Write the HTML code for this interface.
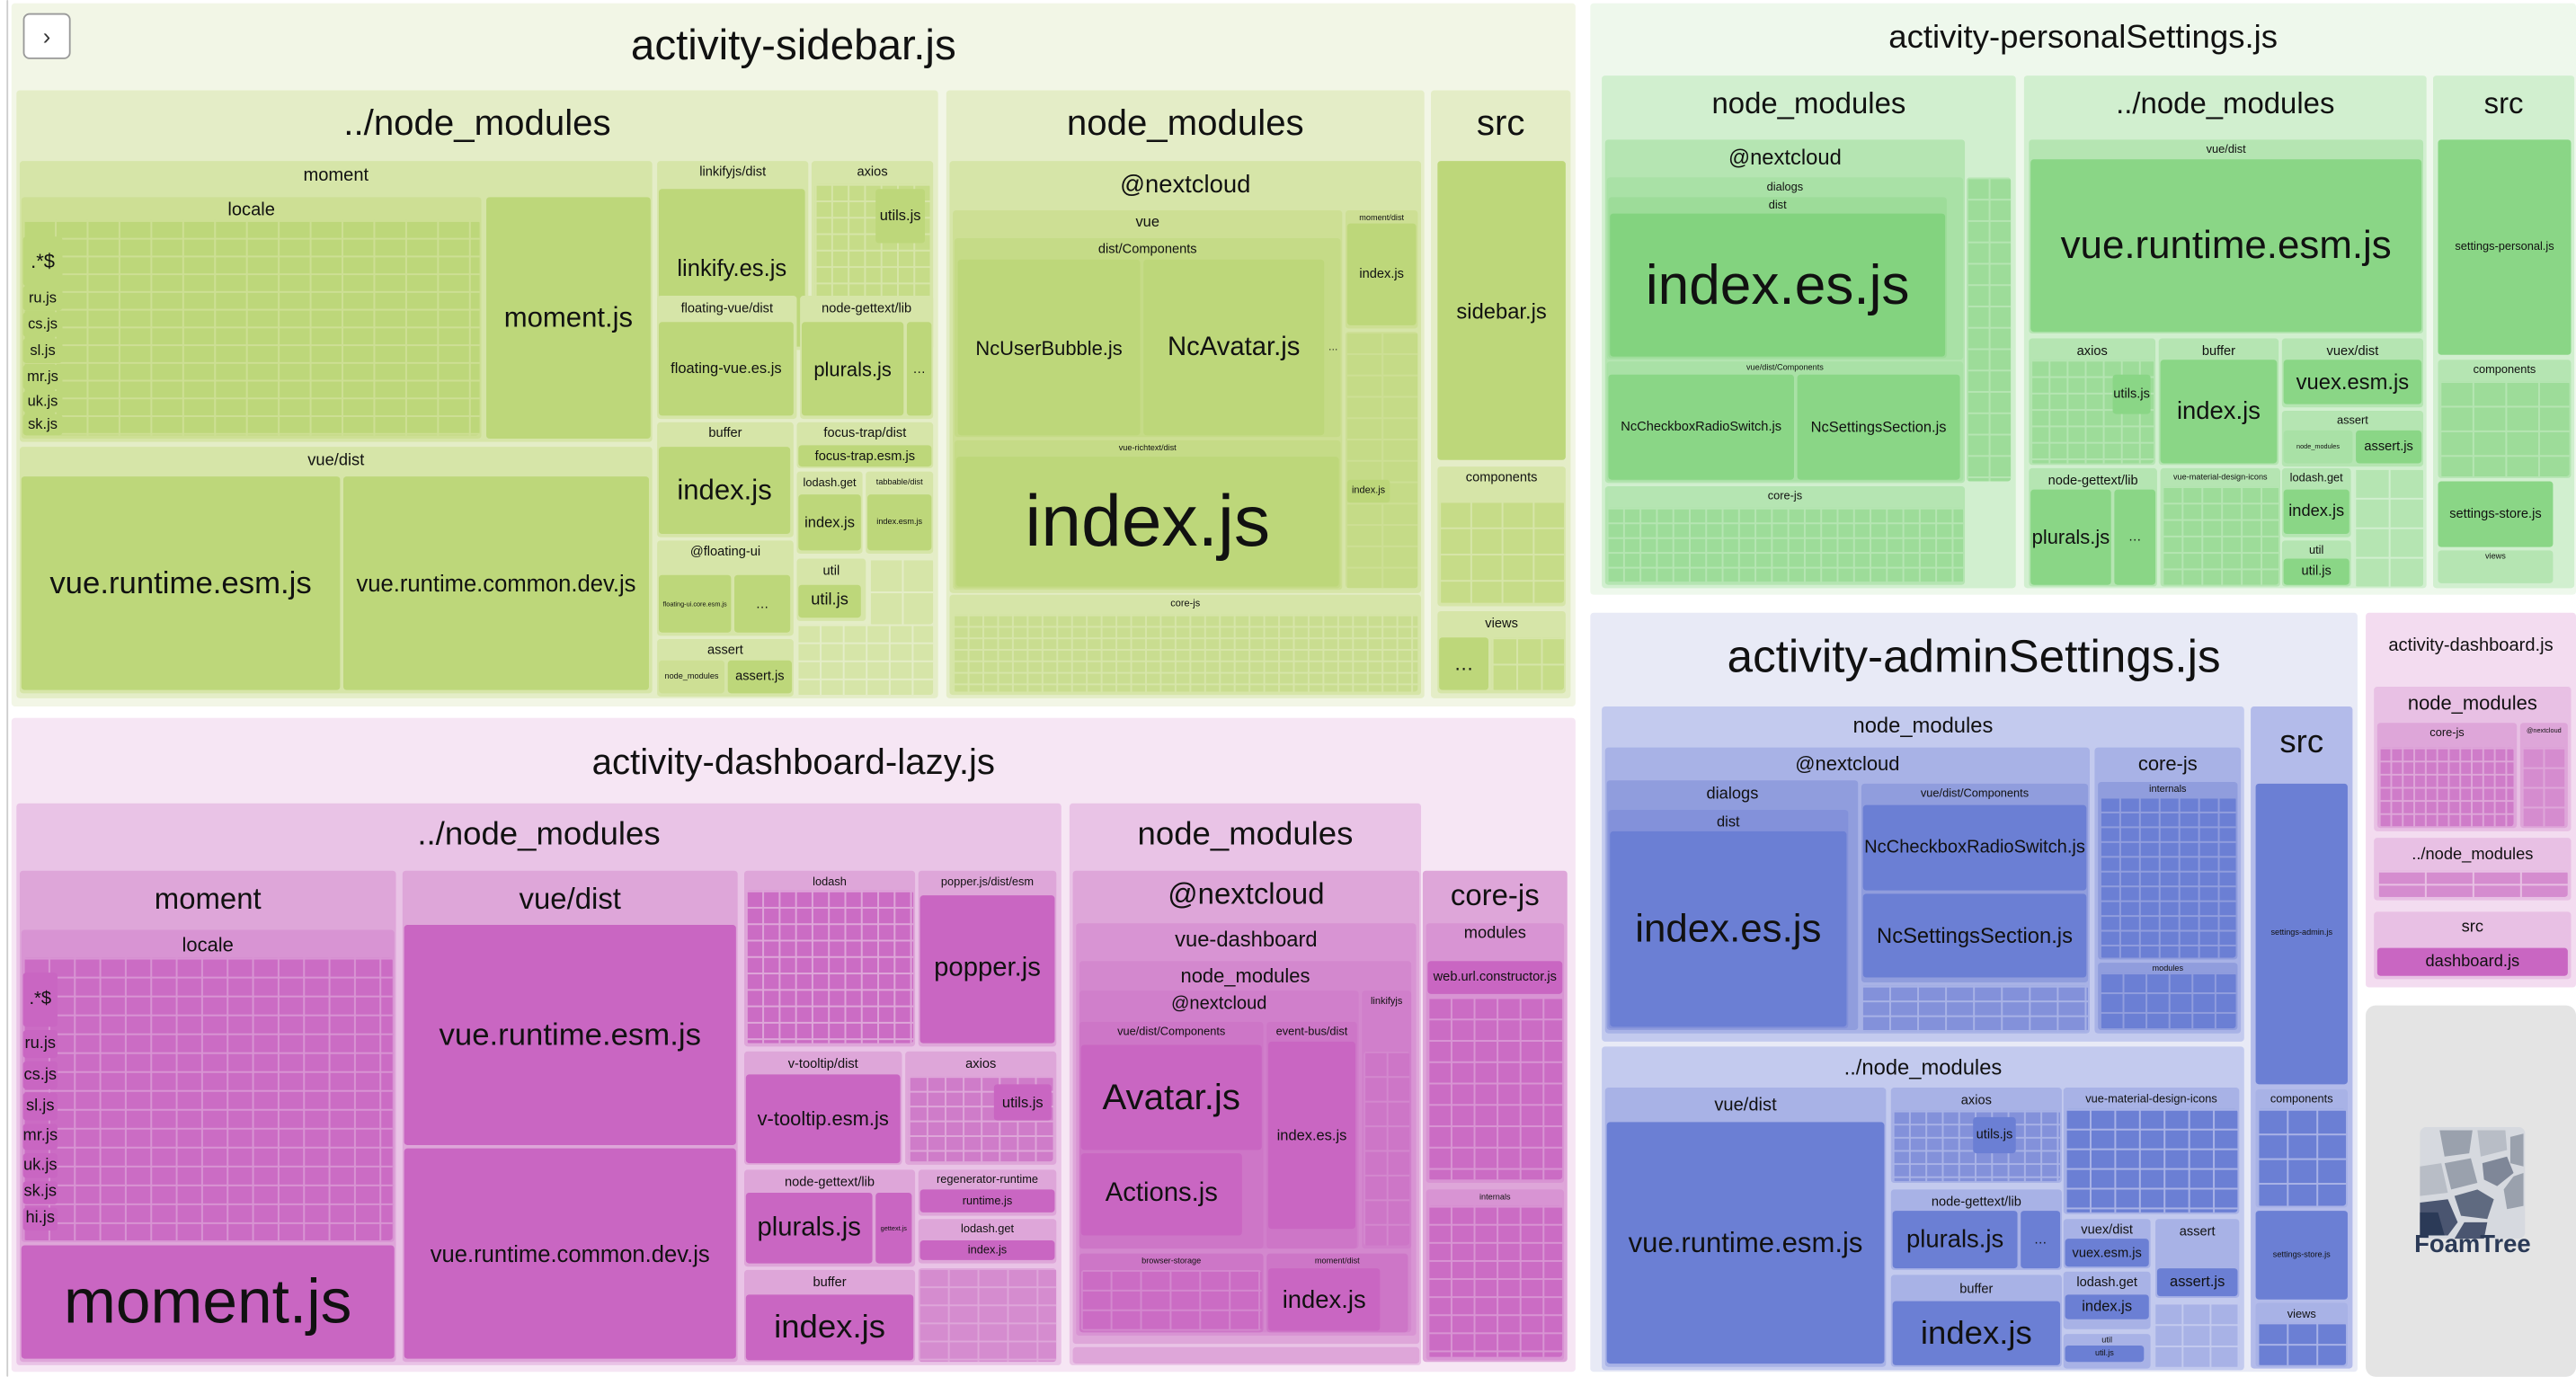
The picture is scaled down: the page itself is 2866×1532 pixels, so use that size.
<!DOCTYPE html>
<html><head><meta charset="utf-8"><style>
html,body{margin:0;padding:0;background:#fff;width:2866px;height:1532px;overflow:hidden}
#c{position:absolute;left:0;top:0;width:1568px;height:838px;transform:scale(1.82781);transform-origin:0 0;font-family:"Liberation Sans",sans-serif;color:#111}
.b{position:absolute;box-sizing:border-box;border-radius:2px;display:flex;align-items:center;justify-content:center;text-align:center;overflow:hidden;white-space:nowrap;line-height:1}
.g{align-items:flex-start}
.gs{background-image:linear-gradient(90deg,var(--l) 1px,transparent 1px),linear-gradient(var(--l) 1px,transparent 1px)}
</style></head><body><div id="c">
<div class="b" style="left:4px;top:0;width:1px;height:838px;background:#ccc"></div>

<!-- ============ SIDEBAR (green) ============ -->
<div class="b g" style="left:7px;top:2px;width:952px;height:428px;background:#f2f6e6;font-size:26px;padding-top:12px">activity-sidebar.js</div>
<div class="b" style="left:14px;top:8px;width:29px;height:28px;background:#fff;border:1px solid #999;border-radius:4px;font-size:14px;color:#333">&#x203A;</div>
<!-- ../node_modules -->
<div class="b g" style="left:10px;top:55px;width:561px;height:370px;background:#e4edc7;font-size:22px;padding-top:9px">../node_modules</div>
<div class="b g" style="left:12px;top:98px;width:385px;height:171px;background:#d6e5a8;font-size:11px;padding-top:4px">moment</div>
<div class="b g" style="left:13px;top:120px;width:280px;height:147px;background:#cddf94;font-size:11px;padding-top:3px">locale</div>
<div class="b gs" style="--l:#cddf94;left:14px;top:134px;width:278px;height:131px;background-color:#bdd77a;background-size:19.4px 10.8px"></div>
<div class="b" style="left:14px;top:144px;width:24px;height:30px;background:#bdd77a;font-size:12px">.*$</div>
<div class="b" style="left:14px;top:174px;width:24px;height:15px;background:#bdd77a;font-size:9px">ru.js</div>
<div class="b" style="left:14px;top:190px;width:24px;height:15px;background:#bdd77a;font-size:9px">cs.js</div>
<div class="b" style="left:14px;top:206px;width:24px;height:15px;background:#bdd77a;font-size:9px">sl.js</div>
<div class="b" style="left:14px;top:222px;width:24px;height:15px;background:#bdd77a;font-size:9px">mr.js</div>
<div class="b" style="left:14px;top:238px;width:24px;height:13px;background:#bdd77a;font-size:9px">uk.js</div>
<div class="b" style="left:14px;top:252px;width:24px;height:13px;background:#bdd77a;font-size:9px">sk.js</div>
<div class="b" style="left:296px;top:120px;width:100px;height:147px;background:#bdd77a;font-size:17px">moment.js</div>
<div class="b g" style="left:12px;top:272px;width:385px;height:150px;background:#d6e5a8;font-size:10px;padding-top:4px">vue/dist</div>
<div class="b" style="left:13px;top:290px;width:194px;height:130px;background:#bdd77a;font-size:19px">vue.runtime.esm.js</div>
<div class="b" style="left:209px;top:290px;width:186px;height:130px;background:#bdd77a;font-size:14px">vue.runtime.common.dev.js</div>
<div class="b g" style="left:400px;top:98px;width:92px;height:115px;background:#d6e5a8;font-size:8px;padding-top:3px">linkifyjs/dist</div>
<div class="b" style="left:401px;top:115px;width:89px;height:96px;background:#bdd77a;font-size:14px">linkify.es.js</div>
<div class="b g" style="left:494px;top:98px;width:74px;height:115px;background:#d6e5a8;font-size:8px;padding-top:3px">axios</div>
<div class="b gs" style="--l:#d6e5a8;left:496px;top:112px;width:70px;height:99px;background-color:#c6dc88;background-size:10px 10px"></div>
<div class="b" style="left:533px;top:115px;width:30px;height:33px;background:#bdd77a;font-size:9px">utils.js</div>
<div class="b g" style="left:400px;top:180px;width:85px;height:75px;background:#d6e5a8;font-size:8px;padding-top:4px">floating-vue/dist</div>
<div class="b" style="left:401px;top:196px;width:82px;height:57px;background:#bdd77a;font-size:9px">floating-vue.es.js</div>
<div class="b g" style="left:487px;top:180px;width:81px;height:75px;background:#d6e5a8;font-size:8px;padding-top:4px">node-gettext/lib</div>
<div class="b" style="left:488px;top:196px;width:62px;height:57px;background:#bdd77a;font-size:12px">plurals.js</div>
<div class="b" style="left:552px;top:196px;width:15px;height:57px;background:#bdd77a;font-size:8px">…</div>
<div class="b g" style="left:400px;top:257px;width:83px;height:70px;background:#d6e5a8;font-size:8px;padding-top:3px">buffer</div>
<div class="b" style="left:401px;top:272px;width:80px;height:53px;background:#bdd77a;font-size:17px">index.js</div>
<div class="b g" style="left:485px;top:257px;width:83px;height:28px;background:#d6e5a8;font-size:8px;padding-top:3px">focus-trap/dist</div>
<div class="b" style="left:486px;top:271px;width:81px;height:13px;background:#bdd77a;font-size:8px">focus-trap.esm.js</div>
<div class="b g" style="left:485px;top:287px;width:40px;height:50px;background:#d6e5a8;font-size:7px;padding-top:4px">lodash.get</div>
<div class="b" style="left:486px;top:301px;width:38px;height:34px;background:#bdd77a;font-size:9px">index.js</div>
<div class="b g" style="left:527px;top:287px;width:41px;height:50px;background:#d6e5a8;font-size:5px;padding-top:5px">tabbable/dist</div>
<div class="b" style="left:528px;top:301px;width:39px;height:34px;background:#bdd77a;font-size:5px">index.esm.js</div>
<div class="b g" style="left:400px;top:329px;width:83px;height:58px;background:#d6e5a8;font-size:8px;padding-top:3px">@floating-ui</div>
<div class="b" style="left:401px;top:350px;width:44px;height:35px;background:#bdd77a;font-size:4px">floating-ui.core.esm.js</div>
<div class="b" style="left:447px;top:350px;width:34px;height:35px;background:#bdd77a;font-size:8px">…</div>
<div class="b g" style="left:400px;top:389px;width:83px;height:35px;background:#d6e5a8;font-size:8px;padding-top:3px">assert</div>
<div class="b" style="left:443px;top:402px;width:39px;height:20px;background:#bdd77a;font-size:8px">assert.js</div>
<div class="b" style="left:401px;top:402px;width:40px;height:20px;background:#cddf94;font-size:5px">node_modules</div>
<div class="b g" style="left:485px;top:340px;width:42px;height:38px;background:#d6e5a8;font-size:8px;padding-top:4px">util</div>
<div class="b" style="left:486px;top:356px;width:38px;height:20px;background:#bdd77a;font-size:10px">util.js</div>
<div class="b gs" style="--l:#e4edc7;left:485px;top:380px;width:83px;height:43px;background-color:#d6e5a8;background-size:14px 11px"></div>
<div class="b gs" style="--l:#e4edc7;left:529px;top:340px;width:39px;height:40px;background-color:#d6e5a8;background-size:20px 20px"></div>
<!-- node_modules -->
<div class="b g" style="left:576px;top:55px;width:291px;height:370px;background:#e4edc7;font-size:22px;padding-top:9px">node_modules</div>
<div class="b g" style="left:578px;top:98px;width:287px;height:263px;background:#d6e5a8;font-size:15px;padding-top:7px">@nextcloud</div>
<div class="b g" style="left:580px;top:128px;width:237px;height:231px;background:#cddf94;font-size:9px;padding-top:3px">vue</div>
<div class="b g" style="left:581px;top:145px;width:235px;height:121px;background:#c5db87;font-size:8px;padding-top:3px">dist/Components</div>
<div class="b" style="left:583px;top:158px;width:111px;height:107px;background:#bdd77a;font-size:12px">NcUserBubble.js</div>
<div class="b" style="left:696px;top:158px;width:110px;height:107px;background:#bdd77a;font-size:16px">NcAvatar.js</div>
<div class="b" style="left:808px;top:158px;width:7px;height:107px;background:#c5db87;font-size:6px">…</div>
<div class="b g" style="left:581px;top:268px;width:235px;height:90px;background:#c5db87;font-size:5px;padding-top:3px">vue-richtext/dist</div>
<div class="b" style="left:582px;top:278px;width:233px;height:79px;background:#bdd77a;font-size:44px">index.js</div>
<div class="b g" style="left:819px;top:128px;width:44px;height:72px;background:#cddf94;font-size:5px;padding-top:3px">moment/dist</div>
<div class="b" style="left:820px;top:136px;width:42px;height:62px;background:#bdd77a;font-size:8px">index.js</div>
<div class="b gs" style="--l:#cddf94;left:819px;top:202px;width:44px;height:156px;background-color:#c5db87;background-size:22px 13px"></div>
<div class="b" style="left:820px;top:292px;width:26px;height:14px;background:#bdd77a;font-size:6px">index.js</div>
<div class="b g" style="left:578px;top:362px;width:287px;height:61px;background:#d6e5a8;font-size:6px;padding-top:3px">core-js</div>
<div class="b gs" style="--l:#d6e5a8;left:580px;top:374px;width:283px;height:47px;background-color:#c9dd90;background-size:9px 7px"></div>
<!-- src -->
<div class="b g" style="left:871px;top:55px;width:85px;height:370px;background:#e4edc7;font-size:22px;padding-top:9px">src</div>
<div class="b" style="left:875px;top:98px;width:78px;height:182px;background:#bdd77a;font-size:13px">sidebar.js</div>
<div class="b g" style="left:875px;top:284px;width:78px;height:85px;background:#d6e5a8;font-size:8px;padding-top:3px">components</div>
<div class="b gs" style="--l:#d6e5a8;left:876px;top:305px;width:76px;height:62px;background-color:#c6dc88;background-size:19px 16px"></div>
<div class="b g" style="left:875px;top:372px;width:78px;height:50px;background:#d6e5a8;font-size:8px;padding-top:4px">views</div>
<div class="b" style="left:876px;top:388px;width:30px;height:32px;background:#bdd77a;font-size:12px">…</div>
<div class="b gs" style="--l:#d6e5a8;left:908px;top:388px;width:44px;height:32px;background-color:#c6dc88;background-size:15px 16px"></div>

<!-- ============ DASHBOARD-LAZY (pink) ============ -->
<div class="b g" style="left:7px;top:437px;width:952px;height:398px;background:#f6e6f4;font-size:22px;padding-top:16px">activity-dashboard-lazy.js</div>
<div class="b g" style="left:10px;top:489px;width:636px;height:342px;background:#e9c3e6;font-size:20px;padding-top:9px">../node_modules</div>
<div class="b g" style="left:12px;top:530px;width:229px;height:299px;background:#dea6d9;font-size:18px;padding-top:8px">moment</div>
<div class="b g" style="left:13px;top:566px;width:227px;height:190px;background:#d894d3;font-size:12px;padding-top:3px">locale</div>
<div class="b gs" style="--l:#d894d3;left:14px;top:583px;width:225px;height:172px;background-color:#cb6cc4;background-size:15.5px 11.5px"></div>
<div class="b" style="left:14px;top:592px;width:21px;height:33px;background:#c966c2;font-size:11px">.*$</div>
<div class="b" style="left:14px;top:627px;width:21px;height:17px;background:#c966c2;font-size:10px">ru.js</div>
<div class="b" style="left:14px;top:646px;width:21px;height:17px;background:#c966c2;font-size:10px">cs.js</div>
<div class="b" style="left:14px;top:665px;width:21px;height:17px;background:#c966c2;font-size:10px">sl.js</div>
<div class="b" style="left:14px;top:684px;width:21px;height:16px;background:#c966c2;font-size:10px">mr.js</div>
<div class="b" style="left:14px;top:702px;width:21px;height:15px;background:#c966c2;font-size:10px">uk.js</div>
<div class="b" style="left:14px;top:719px;width:21px;height:14px;background:#c966c2;font-size:10px">sk.js</div>
<div class="b" style="left:14px;top:735px;width:21px;height:14px;background:#c966c2;font-size:10px">hi.js</div>
<div class="b" style="left:13px;top:758px;width:227px;height:69px;background:#c966c2;font-size:38px">moment.js</div>
<div class="b g" style="left:245px;top:530px;width:204px;height:299px;background:#dea6d9;font-size:18px;padding-top:8px">vue/dist</div>
<div class="b" style="left:246px;top:563px;width:202px;height:134px;background:#c966c2;font-size:19px">vue.runtime.esm.js</div>
<div class="b" style="left:246px;top:699px;width:202px;height:128px;background:#c966c2;font-size:14px">vue.runtime.common.dev.js</div>
<div class="b g" style="left:453px;top:530px;width:104px;height:107px;background:#dea6d9;font-size:7px;padding-top:4px">lodash</div>
<div class="b gs" style="--l:#dea6d9;left:454px;top:542px;width:102px;height:93px;background-color:#cb6cc4;background-size:10px 10px"></div>
<div class="b g" style="left:559px;top:530px;width:84px;height:107px;background:#dea6d9;font-size:7px;padding-top:4px">popper.js/dist/esm</div>
<div class="b" style="left:560px;top:545px;width:82px;height:90px;background:#c966c2;font-size:16px">popper.js</div>
<div class="b g" style="left:453px;top:640px;width:96px;height:69px;background:#dea6d9;font-size:8px;padding-top:4px">v-tooltip/dist</div>
<div class="b" style="left:454px;top:654px;width:94px;height:54px;background:#c966c2;font-size:12px">v-tooltip.esm.js</div>
<div class="b g" style="left:551px;top:640px;width:92px;height:69px;background:#dea6d9;font-size:8px;padding-top:4px">axios</div>
<div class="b gs" style="--l:#dea6d9;left:553px;top:655px;width:88px;height:52px;background-color:#cf7cc9;background-size:11px 9px"></div>
<div class="b" style="left:605px;top:660px;width:35px;height:22px;background:#c966c2;font-size:9px">utils.js</div>
<div class="b g" style="left:453px;top:712px;width:104px;height:59px;background:#dea6d9;font-size:8px;padding-top:4px">node-gettext/lib</div>
<div class="b" style="left:454px;top:726px;width:77px;height:43px;background:#c966c2;font-size:16px">plurals.js</div>
<div class="b" style="left:533px;top:726px;width:22px;height:43px;background:#c966c2;font-size:4px">gettext.js</div>
<div class="b g" style="left:559px;top:712px;width:84px;height:28px;background:#dea6d9;font-size:7px;padding-top:3px">regenerator-runtime</div>
<div class="b" style="left:560px;top:724px;width:82px;height:14px;background:#c966c2;font-size:7px">runtime.js</div>
<div class="b g" style="left:559px;top:742px;width:84px;height:27px;background:#dea6d9;font-size:7px;padding-top:3px">lodash.get</div>
<div class="b" style="left:560px;top:755px;width:82px;height:12px;background:#c966c2;font-size:7px">index.js</div>
<div class="b g" style="left:453px;top:773px;width:104px;height:56px;background:#dea6d9;font-size:8px;padding-top:4px">buffer</div>
<div class="b" style="left:454px;top:788px;width:102px;height:40px;background:#c966c2;font-size:20px">index.js</div>
<div class="b gs" style="--l:#dea6d9;left:559px;top:772px;width:84px;height:57px;background-color:#d58ccf;background-size:18px 11px"></div>
<!-- node_modules -->
<div class="b g" style="left:651px;top:489px;width:214px;height:342px;background:#e9c3e6;font-size:20px;padding-top:9px">node_modules</div>
<div class="b g" style="left:653px;top:530px;width:211px;height:288px;background:#dea6d9;font-size:18px;padding-top:5px">@nextcloud</div>
<div class="b g" style="left:655px;top:562px;width:207px;height:251px;background:#d894d3;font-size:13px;padding-top:3px">vue-dashboard</div>
<div class="b g" style="left:657px;top:585px;width:202px;height:226px;background:#d388ce;font-size:12px;padding-top:3px">node_modules</div>
<div class="b g" style="left:657px;top:603px;width:170px;height:157px;background:#d07fcb;font-size:11px;padding-top:3px">@nextcloud</div>
<div class="b g" style="left:657px;top:622px;width:112px;height:138px;background:#cd76c7;font-size:7px;padding-top:3px">vue/dist/Components</div>
<div class="b" style="left:658px;top:636px;width:110px;height:64px;background:#c966c2;font-size:22px">Avatar.js</div>
<div class="b" style="left:658px;top:702px;width:98px;height:50px;background:#c966c2;font-size:16px">Actions.js</div>
<div class="b g" style="left:771px;top:622px;width:55px;height:138px;background:#cd76c7;font-size:7px;padding-top:3px">event-bus/dist</div>
<div class="b" style="left:772px;top:634px;width:53px;height:114px;background:#c966c2;font-size:9px">index.es.js</div>
<div class="b g" style="left:829px;top:603px;width:30px;height:157px;background:#d07fcb;font-size:6px;padding-top:4px">linkifyjs</div>
<div class="b gs" style="--l:#d388ce;left:830px;top:640px;width:28px;height:118px;background-color:#cd76c7;background-size:14px 15px"></div>
<div class="b g" style="left:657px;top:763px;width:112px;height:48px;background:#cd76c7;font-size:5px;padding-top:3px">browser-storage</div>
<div class="b gs" style="--l:#d388ce;left:658px;top:773px;width:110px;height:37px;background-color:#cb6cc4;background-size:18px 12px"></div>
<div class="b g" style="left:771px;top:763px;width:86px;height:48px;background:#cd76c7;font-size:5px;padding-top:3px">moment/dist</div>
<div class="b" style="left:772px;top:772px;width:68px;height:38px;background:#c966c2;font-size:15px">index.js</div>
<div class="b" style="left:653px;top:820px;width:211px;height:10px;background:#dea6d9"></div>
<div class="b g" style="left:866px;top:530px;width:88px;height:299px;background:#dea6d9;font-size:18px;padding-top:6px">core-js</div>
<div class="b g" style="left:868px;top:562px;width:84px;height:158px;background:#d894d3;font-size:10px;padding-top:2px">modules</div>
<div class="b" style="left:869px;top:585px;width:82px;height:20px;background:#c966c2;font-size:8px">web.url.constructor.js</div>
<div class="b gs" style="--l:#d894d3;left:869px;top:607px;width:82px;height:111px;background-color:#cb6cc4;background-size:14px 13px"></div>
<div class="b g" style="left:868px;top:724px;width:84px;height:104px;background:#d894d3;font-size:5px;padding-top:3px">internals</div>
<div class="b gs" style="--l:#d894d3;left:869px;top:734px;width:82px;height:92px;background-color:#cb6cc4;background-size:14px 11px"></div>

<!-- ============ PERSONAL SETTINGS (light green) ============ -->
<div class="b g" style="left:968px;top:2px;width:600px;height:360px;background:#eef8ec;font-size:20px;padding-top:11px">activity-personalSettings.js</div>
<div class="b g" style="left:975px;top:46px;width:252px;height:312px;background:#d1efcf;font-size:18px;padding-top:8px">node_modules</div>
<div class="b g" style="left:977px;top:85px;width:219px;height:209px;background:#b5e5b2;font-size:13px;padding-top:4px">@nextcloud</div>
<div class="b g" style="left:978px;top:108px;width:217px;height:111px;background:#a9e1a6;font-size:7px;padding-top:3px">dialogs</div>
<div class="b g" style="left:979px;top:120px;width:206px;height:98px;background:#9ddc99;font-size:7px;padding-top:2px">dist</div>
<div class="b" style="left:980px;top:130px;width:204px;height:87px;background:#83d37f;font-size:34px">index.es.js</div>
<div class="b g" style="left:978px;top:220px;width:217px;height:73px;background:#a9e1a6;font-size:5px;padding-top:2px">vue/dist/Components</div>
<div class="b" style="left:979px;top:228px;width:113px;height:64px;background:#8ad686;font-size:8px">NcCheckboxRadioSwitch.js</div>
<div class="b" style="left:1094px;top:228px;width:99px;height:64px;background:#8ad686;font-size:9px">NcSettingsSection.js</div>
<div class="b gs" style="--l:#b5e5b2;left:1197px;top:108px;width:27px;height:185px;background-color:#9ddc99;background-size:13.5px 13px"></div>
<div class="b g" style="left:977px;top:296px;width:219px;height:60px;background:#b5e5b2;font-size:7px;padding-top:3px">core-js</div>
<div class="b gs" style="--l:#b5e5b2;left:978px;top:309px;width:217px;height:46px;background-color:#9ddc99;background-size:10px 9px"></div>
<div class="b g" style="left:1232px;top:46px;width:245px;height:312px;background:#d1efcf;font-size:18px;padding-top:8px">../node_modules</div>
<div class="b g" style="left:1235px;top:85px;width:240px;height:118px;background:#b5e5b2;font-size:7px;padding-top:3px">vue/dist</div>
<div class="b" style="left:1236px;top:97px;width:238px;height:105px;background:#8ad686;font-size:24px">vue.runtime.esm.js</div>
<div class="b g" style="left:1235px;top:206px;width:77px;height:77px;background:#b5e5b2;font-size:8px;padding-top:4px">axios</div>
<div class="b gs" style="--l:#b5e5b2;left:1236px;top:219px;width:75px;height:63px;background-color:#9ddc99;background-size:11px 10px"></div>
<div class="b" style="left:1286px;top:228px;width:23px;height:24px;background:#8ad686;font-size:8px">utils.js</div>
<div class="b g" style="left:1314px;top:206px;width:73px;height:77px;background:#b5e5b2;font-size:8px;padding-top:4px">buffer</div>
<div class="b" style="left:1315px;top:219px;width:71px;height:63px;background:#8ad686;font-size:15px">index.js</div>
<div class="b g" style="left:1389px;top:206px;width:86px;height:42px;background:#b5e5b2;font-size:8px;padding-top:4px">vuex/dist</div>
<div class="b" style="left:1390px;top:219px;width:84px;height:27px;background:#8ad686;font-size:13px">vuex.esm.js</div>
<div class="b g" style="left:1389px;top:250px;width:86px;height:34px;background:#b5e5b2;font-size:7px;padding-top:3px">assert</div>
<div class="b" style="left:1434px;top:262px;width:40px;height:20px;background:#8ad686;font-size:8px">assert.js</div>
<div class="b" style="left:1390px;top:262px;width:42px;height:20px;background:#a9e1a6;font-size:4px">node_modules</div>
<div class="b g" style="left:1235px;top:285px;width:78px;height:72px;background:#b5e5b2;font-size:8px;padding-top:4px">node-gettext/lib</div>
<div class="b" style="left:1236px;top:298px;width:49px;height:58px;background:#8ad686;font-size:12px">plurals.js</div>
<div class="b" style="left:1287px;top:298px;width:25px;height:58px;background:#8ad686;font-size:8px">…</div>
<div class="b g" style="left:1315px;top:285px;width:73px;height:72px;background:#b5e5b2;font-size:5px;padding-top:4px">vue-material-design-icons</div>
<div class="b gs" style="--l:#b5e5b2;left:1316px;top:296px;width:71px;height:60px;background-color:#9ddc99;background-size:12px 10px"></div>
<div class="b g" style="left:1389px;top:285px;width:42px;height:42px;background:#b5e5b2;font-size:7px;padding-top:3px">lodash.get</div>
<div class="b" style="left:1390px;top:298px;width:40px;height:27px;background:#8ad686;font-size:10px">index.js</div>
<div class="b g" style="left:1389px;top:329px;width:42px;height:28px;background:#b5e5b2;font-size:7px;padding-top:3px">util</div>
<div class="b" style="left:1390px;top:340px;width:40px;height:16px;background:#8ad686;font-size:8px">util.js</div>
<div class="b gs" style="--l:#d1efcf;left:1433px;top:285px;width:42px;height:72px;background-color:#b5e5b2;background-size:21px 18px"></div>
<div class="b g" style="left:1481px;top:46px;width:86px;height:312px;background:#d1efcf;font-size:18px;padding-top:8px">src</div>
<div class="b" style="left:1484px;top:85px;width:81px;height:131px;background:#8ad686;font-size:7px">settings-personal.js</div>
<div class="b g" style="left:1484px;top:219px;width:81px;height:72px;background:#b5e5b2;font-size:7px;padding-top:3px">components</div>
<div class="b gs" style="--l:#b5e5b2;left:1485px;top:232px;width:79px;height:58px;background-color:#9ddc99;background-size:20px 15px"></div>
<div class="b" style="left:1484px;top:293px;width:70px;height:40px;background:#8ad686;font-size:8px">settings-store.js</div>
<div class="b g" style="left:1484px;top:335px;width:70px;height:20px;background:#b5e5b2;font-size:5px;padding-top:2px">views</div>

<!-- ============ ADMIN SETTINGS (blue) ============ -->
<div class="b g" style="left:968px;top:373px;width:467px;height:462px;background:#e8eaf6;font-size:28px;padding-top:13px">activity-adminSettings.js</div>
<div class="b g" style="left:975px;top:430px;width:391px;height:204px;background:#c3caee;font-size:13px;padding-top:5px">node_modules</div>
<div class="b g" style="left:977px;top:455px;width:295px;height:174px;background:#a8b2e6;font-size:12px;padding-top:4px">@nextcloud</div>
<div class="b g" style="left:978px;top:475px;width:153px;height:152px;background:#909ddd;font-size:10px;padding-top:4px">dialogs</div>
<div class="b g" style="left:979px;top:493px;width:146px;height:133px;background:#8391da;font-size:9px;padding-top:3px">dist</div>
<div class="b" style="left:980px;top:506px;width:144px;height:119px;background:#6b7fd4;font-size:24px">index.es.js</div>
<div class="b g" style="left:1133px;top:477px;width:138px;height:121px;background:#909ddd;font-size:7px;padding-top:3px">vue/dist/Components</div>
<div class="b" style="left:1134px;top:490px;width:136px;height:52px;background:#6b7fd4;font-size:11px">NcCheckboxRadioSwitch.js</div>
<div class="b" style="left:1134px;top:544px;width:136px;height:51px;background:#6b7fd4;font-size:13px">NcSettingsSection.js</div>
<div class="b gs" style="--l:#a8b2e6;left:1133px;top:600px;width:138px;height:28px;background-color:#8391da;background-size:17px 9px"></div>
<div class="b g" style="left:1275px;top:455px;width:89px;height:174px;background:#a8b2e6;font-size:12px;padding-top:4px">core-js</div>
<div class="b g" style="left:1277px;top:476px;width:85px;height:108px;background:#909ddd;font-size:6px;padding-top:2px">internals</div>
<div class="b gs" style="--l:#909ddd;left:1278px;top:485px;width:83px;height:98px;background-color:#6b7fd4;background-size:12px 9px"></div>
<div class="b g" style="left:1277px;top:586px;width:85px;height:41px;background:#909ddd;font-size:5px;padding-top:2px">modules</div>
<div class="b gs" style="--l:#909ddd;left:1278px;top:592px;width:83px;height:34px;background-color:#6b7fd4;background-size:14px 12px"></div>
<div class="b g" style="left:975px;top:637px;width:391px;height:197px;background:#c3caee;font-size:13px;padding-top:6px">../node_modules</div>
<div class="b g" style="left:977px;top:662px;width:171px;height:170px;background:#a8b2e6;font-size:11px;padding-top:6px">vue/dist</div>
<div class="b" style="left:978px;top:683px;width:169px;height:147px;background:#6b7fd4;font-size:17px">vue.runtime.esm.js</div>
<div class="b g" style="left:1151px;top:662px;width:104px;height:58px;background:#a8b2e6;font-size:8px;padding-top:4px">axios</div>
<div class="b gs" style="--l:#a8b2e6;left:1152px;top:676px;width:102px;height:43px;background-color:#8391da;background-size:10px 8px"></div>
<div class="b" style="left:1201px;top:680px;width:26px;height:22px;background:#6b7fd4;font-size:8px">utils.js</div>
<div class="b g" style="left:1256px;top:662px;width:107px;height:77px;background:#a8b2e6;font-size:7px;padding-top:4px">vue-material-design-icons</div>
<div class="b gs" style="--l:#a8b2e6;left:1257px;top:675px;width:105px;height:63px;background-color:#6b7fd4;background-size:15px 12px"></div>
<div class="b g" style="left:1151px;top:724px;width:104px;height:49px;background:#a8b2e6;font-size:8px;padding-top:4px">node-gettext/lib</div>
<div class="b" style="left:1152px;top:737px;width:76px;height:35px;background:#6b7fd4;font-size:15px">plurals.js</div>
<div class="b" style="left:1230px;top:737px;width:24px;height:35px;background:#6b7fd4;font-size:8px">…</div>
<div class="b g" style="left:1151px;top:776px;width:104px;height:56px;background:#a8b2e6;font-size:8px;padding-top:5px">buffer</div>
<div class="b" style="left:1152px;top:792px;width:102px;height:39px;background:#6b7fd4;font-size:20px">index.js</div>
<div class="b g" style="left:1256px;top:742px;width:53px;height:30px;background:#a8b2e6;font-size:8px;padding-top:3px">vuex/dist</div>
<div class="b" style="left:1257px;top:754px;width:51px;height:17px;background:#6b7fd4;font-size:8px">vuex.esm.js</div>
<div class="b g" style="left:1312px;top:742px;width:51px;height:48px;background:#a8b2e6;font-size:8px;padding-top:4px">assert</div>
<div class="b" style="left:1313px;top:772px;width:49px;height:17px;background:#6b7fd4;font-size:9px">assert.js</div>
<div class="b g" style="left:1256px;top:774px;width:53px;height:35px;background:#a8b2e6;font-size:8px;padding-top:3px">lodash.get</div>
<div class="b" style="left:1257px;top:788px;width:51px;height:15px;background:#6b7fd4;font-size:9px">index.js</div>
<div class="b g" style="left:1256px;top:812px;width:53px;height:21px;background:#a8b2e6;font-size:5px;padding-top:2px">util</div>
<div class="b" style="left:1257px;top:819px;width:48px;height:10px;background:#6b7fd4;font-size:5px">util.js</div>
<div class="b gs" style="--l:#c3caee;left:1311px;top:793px;width:52px;height:40px;background-color:#a8b2e6;background-size:17px 13px"></div>
<div class="b g" style="left:1370px;top:430px;width:62px;height:403px;background:#b3bbea;font-size:20px;padding-top:12px">src</div>
<div class="b" style="left:1373px;top:477px;width:56px;height:183px;background:#6b7fd4;font-size:5px">settings-admin.js</div>
<div class="b g" style="left:1373px;top:663px;width:56px;height:72px;background:#a8b2e6;font-size:7px;padding-top:3px">components</div>
<div class="b gs" style="--l:#a8b2e6;left:1374px;top:675px;width:54px;height:59px;background-color:#6b7fd4;background-size:18px 15px"></div>
<div class="b" style="left:1373px;top:737px;width:56px;height:54px;background:#6b7fd4;font-size:5px">settings-store.js</div>
<div class="b g" style="left:1373px;top:793px;width:56px;height:39px;background:#a8b2e6;font-size:7px;padding-top:4px">views</div>
<div class="b gs" style="--l:#a8b2e6;left:1374px;top:805px;width:54px;height:26px;background-color:#6b7fd4;background-size:18px 13px"></div>

<!-- ============ DASHBOARD (pink small) ============ -->
<div class="b g" style="left:1440px;top:373px;width:128px;height:228px;background:#f3dcf0;font-size:11px;padding-top:15px">activity-dashboard.js</div>
<div class="b g" style="left:1445px;top:418px;width:120px;height:88px;background:#e8c0e4;font-size:12px;padding-top:4px">node_modules</div>
<div class="b g" style="left:1447px;top:440px;width:85px;height:64px;background:#dea6d9;font-size:7px;padding-top:3px">core-js</div>
<div class="b gs" style="--l:#dea6d9;left:1448px;top:455px;width:82px;height:48px;background-color:#cf7cc9;background-size:7px 8px"></div>
<div class="b g" style="left:1534px;top:440px;width:29px;height:64px;background:#dea6d9;font-size:4px;padding-top:3px">@nextcloud</div>
<div class="b gs" style="--l:#dea6d9;left:1535px;top:455px;width:27px;height:48px;background-color:#d58ccf;background-size:13px 12px"></div>
<div class="b g" style="left:1445px;top:510px;width:120px;height:38px;background:#e8c0e4;font-size:10px;padding-top:6px">../node_modules</div>
<div class="b gs" style="--l:#e8c0e4;left:1447px;top:530px;width:116px;height:16px;background-color:#d58ccf;background-size:29px 8px"></div>
<div class="b g" style="left:1445px;top:555px;width:120px;height:41px;background:#e8c0e4;font-size:10px;padding-top:5px">src</div>
<div class="b" style="left:1447px;top:577px;width:116px;height:17px;background:#c966c2;font-size:10px">dashboard.js</div>

<!-- FoamTree -->
<div class="b" style="left:1440px;top:612px;width:128px;height:226px;background:#e4e4e4;border-radius:6px"></div>
<svg style="position:absolute;left:1470px;top:686px" width="70" height="80" viewBox="0 0 70 80">
<rect x="3" y="0" width="64" height="68" rx="4" fill="#d6d9df"/>
<polygon points="15,2 35,2 33,16 18,18" fill="#9aa1ad"/>
<polygon points="38,2 55,2 56,14 40,18" fill="#b8bdc6"/>
<polygon points="58,6 66,4 66,24 58,22" fill="#9aa1ad"/>
<polygon points="18,22 34,19 38,34 22,38" fill="#9aa1ad"/>
<polygon points="41,22 56,18 60,28 50,36 42,32" fill="#7f8798"/>
<polygon points="3,24 16,22 20,40 3,42" fill="#b8bdc6"/>
<polygon points="60,30 66,28 66,48 56,50 54,38" fill="#9aa1ad"/>
<polygon points="24,42 38,38 48,44 44,56 28,54" fill="#5f6a80"/>
<polygon points="3,46 20,44 26,58 20,66 3,66" fill="#4a5570"/>
<polygon points="3,52 14,52 18,66 3,66" fill="#2b3a57"/>
<polygon points="30,58 44,58 42,68 24,68" fill="#4a5570"/>
</svg>
<div class="b" style="left:1460px;top:748px;width:90px;height:18px;font-size:15px;font-weight:bold;color:#2b3a57">FoamTree</div>
</div></body></html>
